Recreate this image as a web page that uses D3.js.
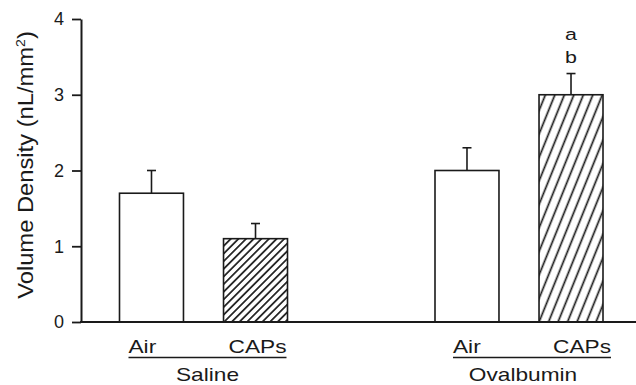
<!DOCTYPE html>
<html>
<head>
<meta charset="utf-8">
<script src="https://cdn.jsdelivr.net/npm/d3@7"></script>
<style>
  body { margin: 0; background: #fff; }
  svg { display: block; font-family: "Liberation Sans", Arial, Helvetica, sans-serif; }
</style>
</head>
<body>
<svg width="636" height="385"></svg>
<script>
// data
const groups = ["Saline", "Ovalbumin"];
const treatments = ["Air", "CAPs"];
const means = [[1.7, 1.1], [2.0, 3.0]];
const errors = [[0.3, 0.2], [0.3, 0.28]];
const yTicks = [0, 1, 2, 3, 4];
const marks = { group: "Ovalbumin", treatment: "CAPs", letters: ["a", "b"] };

const svg = d3.select("svg");
const ink = "#1a1a1a";
const stretch = 1.26; // the original's lettering is a bit wide

const y = d3.scaleLinear().domain([0, 4]).range([322, 19]);
const xGroup = d3.scalePoint().domain(groups).range([203.5, 519]);
const xSub = d3.scaleBand().domain(treatments).range([-84, 84]).paddingInner(0.385);
const labelNudge = [0, 9];

function wideText(sel, x, yy, str, size, anchor) {
  return sel.append("text")
    .attr("transform", `translate(${x},${yy}) scale(${stretch},1)`)
    .attr("text-anchor", anchor || "start")
    .attr("font-size", size).attr("fill", ink)
    .text(str);
}

// hatch patterns
const defs = svg.append("defs");
const hatch = [
  { id: "hatch0", spacing: 5.4, angle: 45 },
  { id: "hatch1", spacing: 8.8, angle: 22 }
];
hatch.forEach(h => {
  const p = defs.append("pattern")
    .attr("id", h.id)
    .attr("patternUnits", "userSpaceOnUse")
    .attr("width", h.spacing)
    .attr("height", 20)
    .attr("patternTransform", `rotate(${h.angle})`);
  p.append("rect").attr("width", h.spacing).attr("height", 20).attr("fill", "#fff");
  p.append("line")
    .attr("x1", h.spacing / 2).attr("y1", -2)
    .attr("x2", h.spacing / 2).attr("y2", 22)
    .attr("stroke", ink).attr("stroke-width", 1.7);
});

// bars
groups.forEach((g, gi) => {
  treatments.forEach((t, ti) => {
    const x0 = xGroup(g) + xSub(t);
    const w = xSub.bandwidth();
    const v = means[gi][ti];
    const e = errors[gi][ti];
    const cx = x0 + w / 2;

    svg.append("line")
      .attr("x1", cx).attr("x2", cx)
      .attr("y1", y(v)).attr("y2", y(v + e))
      .attr("stroke", ink).attr("stroke-width", 1.6);
    svg.append("line")
      .attr("x1", cx - 4.5).attr("x2", cx + 4.5)
      .attr("y1", y(v + e)).attr("y2", y(v + e))
      .attr("stroke", ink).attr("stroke-width", 1.6);

    svg.append("rect")
      .attr("x", x0).attr("y", y(v))
      .attr("width", w).attr("height", y(0) - y(v))
      .attr("fill", t === "CAPs" ? `url(#hatch${gi})` : "#fff")
      .attr("stroke", ink).attr("stroke-width", 1.6);

    if (g === marks.group && t === marks.treatment) {
      marks.letters.forEach((m, mi) => {
        wideText(svg, cx, 40 + mi * 23, m, 17, "middle");
      });
    }
  });
});

// y axis
const yAxis = svg.append("g")
  .attr("transform", "translate(81,0)")
  .call(d3.axisLeft(y).tickValues(yTicks).tickFormat(d3.format("d"))
    .tickSize(9).tickSizeOuter(0).tickPadding(8));
yAxis.select(".domain").attr("stroke", ink).attr("stroke-width", 2);
yAxis.selectAll(".tick line").attr("stroke", ink).attr("stroke-width", 1.8);
yAxis.selectAll(".tick text")
  .attr("font-size", 18).attr("fill", ink)
  .attr("font-family", "Liberation Sans, Arial, sans-serif");

// baseline
svg.append("line")
  .attr("x1", 80).attr("x2", 636)
  .attr("y1", y(0)).attr("y2", y(0))
  .attr("stroke", ink).attr("stroke-width", 2);

// y title
const title = svg.append("text")
  .attr("transform", "translate(33,165) rotate(-90) scale(1.08,1)")
  .attr("text-anchor", "middle")
  .attr("font-size", 22).attr("fill", ink);
title.append("tspan").text("Volume Density (nL/mm");
title.append("tspan").attr("font-size", 13).attr("dy", -8).text("2");
title.append("tspan").attr("dy", 8).text(")");

// category labels
groups.forEach((g, gi) => {
  const c = xGroup(g);
  const left = c + xSub("Air") + 9 + labelNudge[gi];
  const right = c + xSub("CAPs") + xSub.bandwidth() - 1 + labelNudge[gi];

  wideText(svg, left, 353, treatments[0], 18, "start");
  wideText(svg, right, 353, treatments[1], 18, "end");
  svg.append("line")
    .attr("x1", left).attr("x2", right)
    .attr("y1", 357.5).attr("y2", 357.5)
    .attr("stroke", ink).attr("stroke-width", 1.4);
  wideText(svg, c + 4, 381, g, 18, "middle");
});
</script>
</body>
</html>
